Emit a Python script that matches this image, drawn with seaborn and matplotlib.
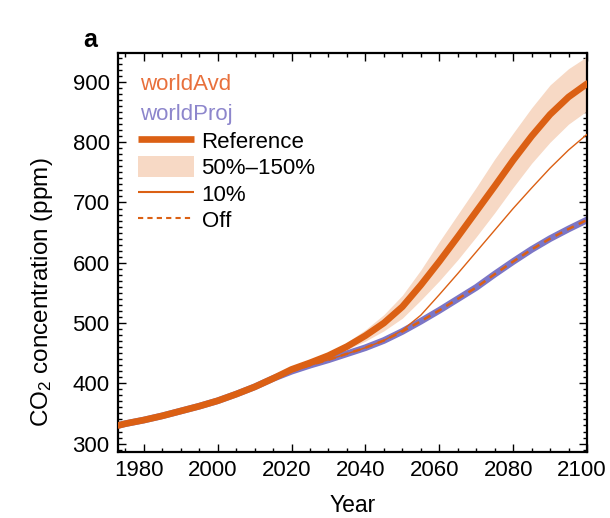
import numpy as np
import pandas as pd
import matplotlib
matplotlib.use("Agg")
import matplotlib.pyplot as plt
from matplotlib.lines import Line2D
from matplotlib.patches import Patch
from matplotlib.ticker import MultipleLocator
from matplotlib.transforms import ScaledTranslation
import seaborn as sns

# ---- data -------------------------------------------------------------
years = [1973, 1975, 1980, 1985, 1990, 1995, 2000, 2005, 2010, 2015, 2020,
         2025, 2030, 2035, 2040, 2045, 2050, 2055, 2060, 2065, 2070, 2075,
         2080, 2085, 2090, 2095, 2100]

# worldAvd, reference run
avd_reference = [330, 333, 339, 346, 354, 362, 371, 382, 394, 408, 423,
                 434, 446, 461, 479, 500, 527, 563, 602, 643, 685, 727,
                 770, 810, 846, 875, 897]
# worldAvd, 50%-150% envelope
avd_low = [330, 333, 339, 346, 354, 362, 371, 382, 394, 408, 422,
           432, 443, 456, 470, 487, 508, 538, 570, 605, 643, 683,
           725, 765, 800, 830, 852]
avd_high = [330, 333, 339, 346, 354, 362, 371, 382, 394, 408, 424,
            436, 450, 468, 489, 514, 546, 588, 635, 680, 725, 772,
            815, 857, 895, 922, 942]
# worldAvd, 10% run
avd_10pct = [330, 333, 339, 346, 354, 362, 371, 382, 394, 408, 420,
             430, 439, 449, 459, 471, 488, 513, 547, 582, 618, 654,
             690, 724, 757, 787, 813]
# worldAvd, off run
avd_off = [330, 333, 339, 346, 354, 362, 371, 382, 394, 408, 420,
           430, 439, 449, 459, 471, 486, 503, 521, 540, 559, 581,
           602, 622, 640, 656, 671]
# worldProj
proj = [330, 333, 339, 346, 354, 362, 371, 382, 394, 408, 420,
        430, 439, 449, 459, 471, 486, 503, 521, 540, 559, 581,
        602, 622, 640, 656, 671]

x_ticks = [1980, 2000, 2020, 2040, 2060, 2080, 2100]
y_ticks = [300, 400, 500, 600, 700, 800, 900]

df = pd.DataFrame({
    "year": years,
    "reference": avd_reference,
    "low": avd_low,
    "high": avd_high,
    "ten": avd_10pct,
    "off": avd_off,
    "proj": proj,
})

# ---- style ------------------------------------------------------------
sns.set_theme(style="ticks")
plt.rcParams["font.family"] = ["Liberation Sans", "DejaVu Sans"]
plt.rcParams["mathtext.fontset"] = "custom"
plt.rcParams["mathtext.rm"] = "Liberation Sans"
plt.rcParams["mathtext.it"] = "Liberation Sans:italic"
for key in ("text.color", "axes.labelcolor", "xtick.color", "ytick.color",
            "axes.edgecolor"):
    plt.rcParams[key] = "black"

ORANGE = "#db6014"
ORANGE_TXT = "#e8703c"
BAND = "#f7d9c5"
PURPLE = "#7c76c6"
PURPLE_TXT = "#8d86cc"
FS = 16

fig = plt.figure(figsize=(6.10, 5.18), dpi=100)
ax = fig.add_axes([118 / 610, 1 - 452 / 518, 469 / 610, 399 / 518])

sns.lineplot(data=df, x="year", y="proj", ax=ax, color=PURPLE, lw=4.8,
             legend=False, zorder=2)
sns.lineplot(data=df, x="year", y="off", ax=ax, color=ORANGE, lw=1.8,
             legend=False, zorder=3)
ax.lines[-1].set_dashes((3, 2.2))
ax.fill_between(df["year"], df["low"], df["high"], color=BAND, lw=0, zorder=1.5)
sns.lineplot(data=df, x="year", y="ten", ax=ax, color=ORANGE, lw=1.0,
             legend=False, zorder=4)
sns.lineplot(data=df, x="year", y="reference", ax=ax, color=ORANGE, lw=4.8,
             legend=False, zorder=5)

ax.set_xlim(1973, 2100)
ax.set_ylim(286, 948)
ax.set_xticks(x_ticks)
ax.set_yticks(y_ticks)
ax.xaxis.set_minor_locator(MultipleLocator(5))
ax.yaxis.set_minor_locator(MultipleLocator(10))
ax.tick_params(which="both", direction="in", top=True, right=True,
               labelsize=FS, width=1.0)
ax.tick_params(which="major", length=6)
ax.tick_params(which="minor", length=3)
ax.tick_params(axis="y", pad=6)
ax.tick_params(axis="x", pad=6)
for s in ax.spines.values():
    s.set_linewidth(1.6)

# x tick labels sit slightly left of their ticks
shift = ScaledTranslation(-5 / 100, 0, fig.dpi_scale_trans)
for lab in ax.get_xticklabels():
    lab.set_transform(lab.get_transform() + shift)

ax.set_xlabel("Year", fontsize=16.5, labelpad=9)
ax.set_ylabel("CO$_2$ concentration (ppm)", fontsize=17.5)
ax.yaxis.set_label_coords(-0.135, 0.40)

# scenario names as coloured text, then the run legend
ax.text(0.047, 0.920, "worldAvd", transform=ax.transAxes, color=ORANGE_TXT,
        fontsize=FS, va="center", ha="left")
ax.text(0.047, 0.845, "worldProj", transform=ax.transAxes, color=PURPLE_TXT,
        fontsize=FS, va="center", ha="left")

handles = [
    Line2D([], [], color=ORANGE, lw=4.8, solid_capstyle="butt"),
    Patch(facecolor=BAND, edgecolor="none"),
    Line2D([], [], color=ORANGE, lw=1.5, solid_capstyle="butt"),
    Line2D([], [], color=ORANGE, lw=1.5, dashes=(2.5, 2)),
]
labels = ["Reference", "50%\u2013150%", "10%", "Off"]
ax.legend(handles, labels, loc="upper left", bbox_to_anchor=(0.043, 0.808),
          frameon=False, fontsize=FS, handlelength=2.5, handletextpad=0.35,
          labelspacing=0.15, handleheight=1.1, borderpad=0, borderaxespad=0)

fig.text(90 / 610, 1 - 40 / 518, "a", fontsize=18, fontweight="bold",
         ha="center", va="center")

fig.savefig("out.png", dpi=100)
